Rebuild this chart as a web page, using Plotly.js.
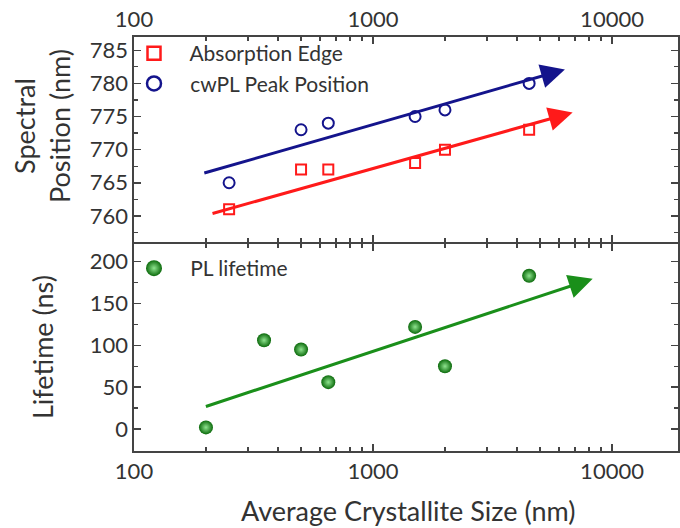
<!DOCTYPE html>
<html>
<head>
<meta charset="utf-8">
<script src="https://cdn.plot.ly/plotly-3.0.1.min.js"></script>
<style>html,body{margin:0;padding:0;background:#fff;}#chart{width:680px;height:528px;}</style>
</head>
<body>
<div id="chart"></div>
<script>
// ---- data ----
const sizesSpectral = [250, 500, 650, 1500, 2000, 4500];
const absorptionEdge = [761, 767, 767, 768, 770, 773];
const cwplPeak = [765, 773, 774, 775, 776, 780];
const sizesLifetime = [200, 350, 500, 650, 1500, 2000, 4500];
const plLifetime = [2, 106, 95, 56, 122, 75, 183];
// trend arrows: [startSize, endSize], [startValue, endValue]
const arrowAbsX = [210, 6840], arrowAbsY = [760.3, 775.6];
const arrowPLX = [194, 6350], arrowPLY = [766.4, 782.1];
const arrowLifeX = [197, 8300], arrowLifeY = [26.4, 179.4];
const xTickVals = [100, 1000, 10000];
const xTickText = ['100', '1000', '10000'];
const ySpecTicks = [760, 765, 770, 775, 780, 785];
const yLifeTicks = [0, 50, 100, 150, 200];

const RED = '#ff1a1a', BLUE = '#14148c', GREEN = '#1a8f1a';
const AX = '#444', TXT = '#333';
const FONT = 'Lato, "Open Sans", sans-serif';
const NB = '\u00a0\u00a0\u00a0';
const GREEN_MARKER = {symbol: 'circle', color: '#0b6a0b', gradient: {type: 'radial', color: '#8fe48f'}, line: {width: 0}};

const traces = [
  {x: sizesSpectral, y: absorptionEdge, xaxis: 'x2', yaxis: 'y2', mode: 'markers', type: 'scatter',
   name: 'Absorption Edge', showlegend: false,
   marker: {symbol: 'square-open', size: 10, color: RED, line: {width: 2, color: RED}}},
  {x: sizesSpectral, y: cwplPeak, xaxis: 'x2', yaxis: 'y2', mode: 'markers', type: 'scatter',
   name: 'cwPL Peak Position', showlegend: false,
   marker: {symbol: 'circle-open', size: 11, color: BLUE, line: {width: 2, color: BLUE}}},
  {x: sizesLifetime, y: plLifetime, xaxis: 'x', yaxis: 'y', mode: 'markers', type: 'scatter',
   name: 'PL lifetime', showlegend: false,
   marker: Object.assign({size: 14}, GREEN_MARKER)},
  // legend entries (no marks drawn)
  {x: [null], y: [null], xaxis: 'x2', yaxis: 'y2', mode: 'markers', type: 'scatter',
   name: NB + 'Absorption Edge', legend: 'legend',
   marker: {symbol: 'square-open', size: 13, color: RED, line: {width: 2.5, color: RED}}},
  {x: [null], y: [null], xaxis: 'x2', yaxis: 'y2', mode: 'markers', type: 'scatter',
   name: NB + 'cwPL Peak Position', legend: 'legend',
   marker: {symbol: 'circle-open', size: 14, color: BLUE, line: {width: 2.5, color: BLUE}}},
  {x: [null], y: [null], xaxis: 'x', yaxis: 'y', mode: 'markers', type: 'scatter',
   name: NB + 'PL lifetime', legend: 'legend2',
   marker: Object.assign({size: 17}, GREEN_MARKER)}
];

function arrow(xs, ys, xref, yref, color) {
  return {x: Math.log10(xs[1]), y: ys[1], ax: Math.log10(xs[0]), ay: ys[0],
    xref: xref, yref: yref, axref: xref, ayref: yref, text: '', showarrow: true,
    arrowhead: 2, arrowsize: 1.6, arrowwidth: 3, arrowcolor: color};
}

const tickFont = {family: FONT, size: 22, color: TXT};
const titleFont = {family: FONT, size: 27, color: TXT};
const LW = 1.6;
const xCommon = {type: 'log', range: [2, 4.276], tickmode: 'array', tickvals: xTickVals, ticktext: xTickText,
  ticks: 'inside', ticklen: 7, tickwidth: 1.5, tickcolor: AX, showline: true, linecolor: AX, linewidth: LW,
  mirror: 'ticks', showgrid: false, zeroline: false, tickfont: tickFont,
  minor: {ticks: 'inside', ticklen: 4, tickwidth: 1.3, tickcolor: AX, dtick: 'D1', showgrid: false}};
const yCommon = {ticks: 'inside', ticklen: 7, tickwidth: 1.5, tickcolor: AX, showline: true, linecolor: AX,
  linewidth: LW, mirror: 'ticks', showgrid: false, zeroline: false, tickfont: tickFont};

const T = 37, B = 451, H = B - T;
const py = p => (B - p) / H;          // pixel y -> paper y
const px = p => (p - 134) / 544;      // pixel x -> paper x

const layout = {
  width: 680, height: 528,
  margin: {l: 134, r: 2, t: T, b: 528 - B},
  paper_bgcolor: '#fff', plot_bgcolor: '#fff',
  font: {family: FONT, color: TXT},
  showlegend: true,
  xaxis: Object.assign({}, xCommon, {anchor: 'y', domain: [0, 1]}),
  xaxis2: Object.assign({}, xCommon, {anchor: 'y2', side: 'top', domain: [0, 1]}),
  yaxis: Object.assign({}, yCommon, {domain: [0, py(244)], range: [-26.2, 221], tickvals: yLifeTicks,
    minor: {ticks: 'inside', ticklen: 4, tickwidth: 1.3, tickcolor: AX, dtick: 25, showgrid: false}}),
  yaxis2: Object.assign({}, yCommon, {domain: [py(244 - LW), 1], range: [756, 787], tickvals: ySpecTicks,
    minor: {ticks: 'inside', ticklen: 4, tickwidth: 1.3, tickcolor: AX, dtick: 2.5, showgrid: false}}),
  legend: {x: 0.0, y: py(33), xanchor: 'left', yanchor: 'top', bgcolor: 'rgba(0,0,0,0)',
    font: {family: FONT, size: 21, color: TXT}, traceorder: 'normal', tracegroupgap: 0},
  legend2: {x: 0.0, y: py(248), xanchor: 'left', yanchor: 'top', bgcolor: 'rgba(0,0,0,0)',
    font: {family: FONT, size: 21, color: TXT}},
  annotations: [
    arrow(arrowAbsX, arrowAbsY, 'x2', 'y2', RED),
    arrow(arrowPLX, arrowPLY, 'x2', 'y2', BLUE),
    arrow(arrowLifeX, arrowLifeY, 'x', 'y', GREEN),
    {text: 'Spectral<br>Position (nm)', xref: 'paper', yref: 'paper', x: px(42), y: py(126),
     xanchor: 'center', yanchor: 'middle', textangle: -90, showarrow: false, font: titleFont},
    {text: 'Lifetime (ns)', xref: 'paper', yref: 'paper', x: px(42), y: py(347),
     xanchor: 'center', yanchor: 'middle', textangle: -90, showarrow: false, font: titleFont},
    {text: 'Average Crystallite Size (nm)', xref: 'paper', yref: 'paper', x: px(408), y: py(510),
     xanchor: 'center', yanchor: 'middle', showarrow: false, font: titleFont}
  ]
};

Plotly.newPlot('chart', traces, layout, {displayModeBar: false, staticPlot: true});
</script>
</body>
</html>
